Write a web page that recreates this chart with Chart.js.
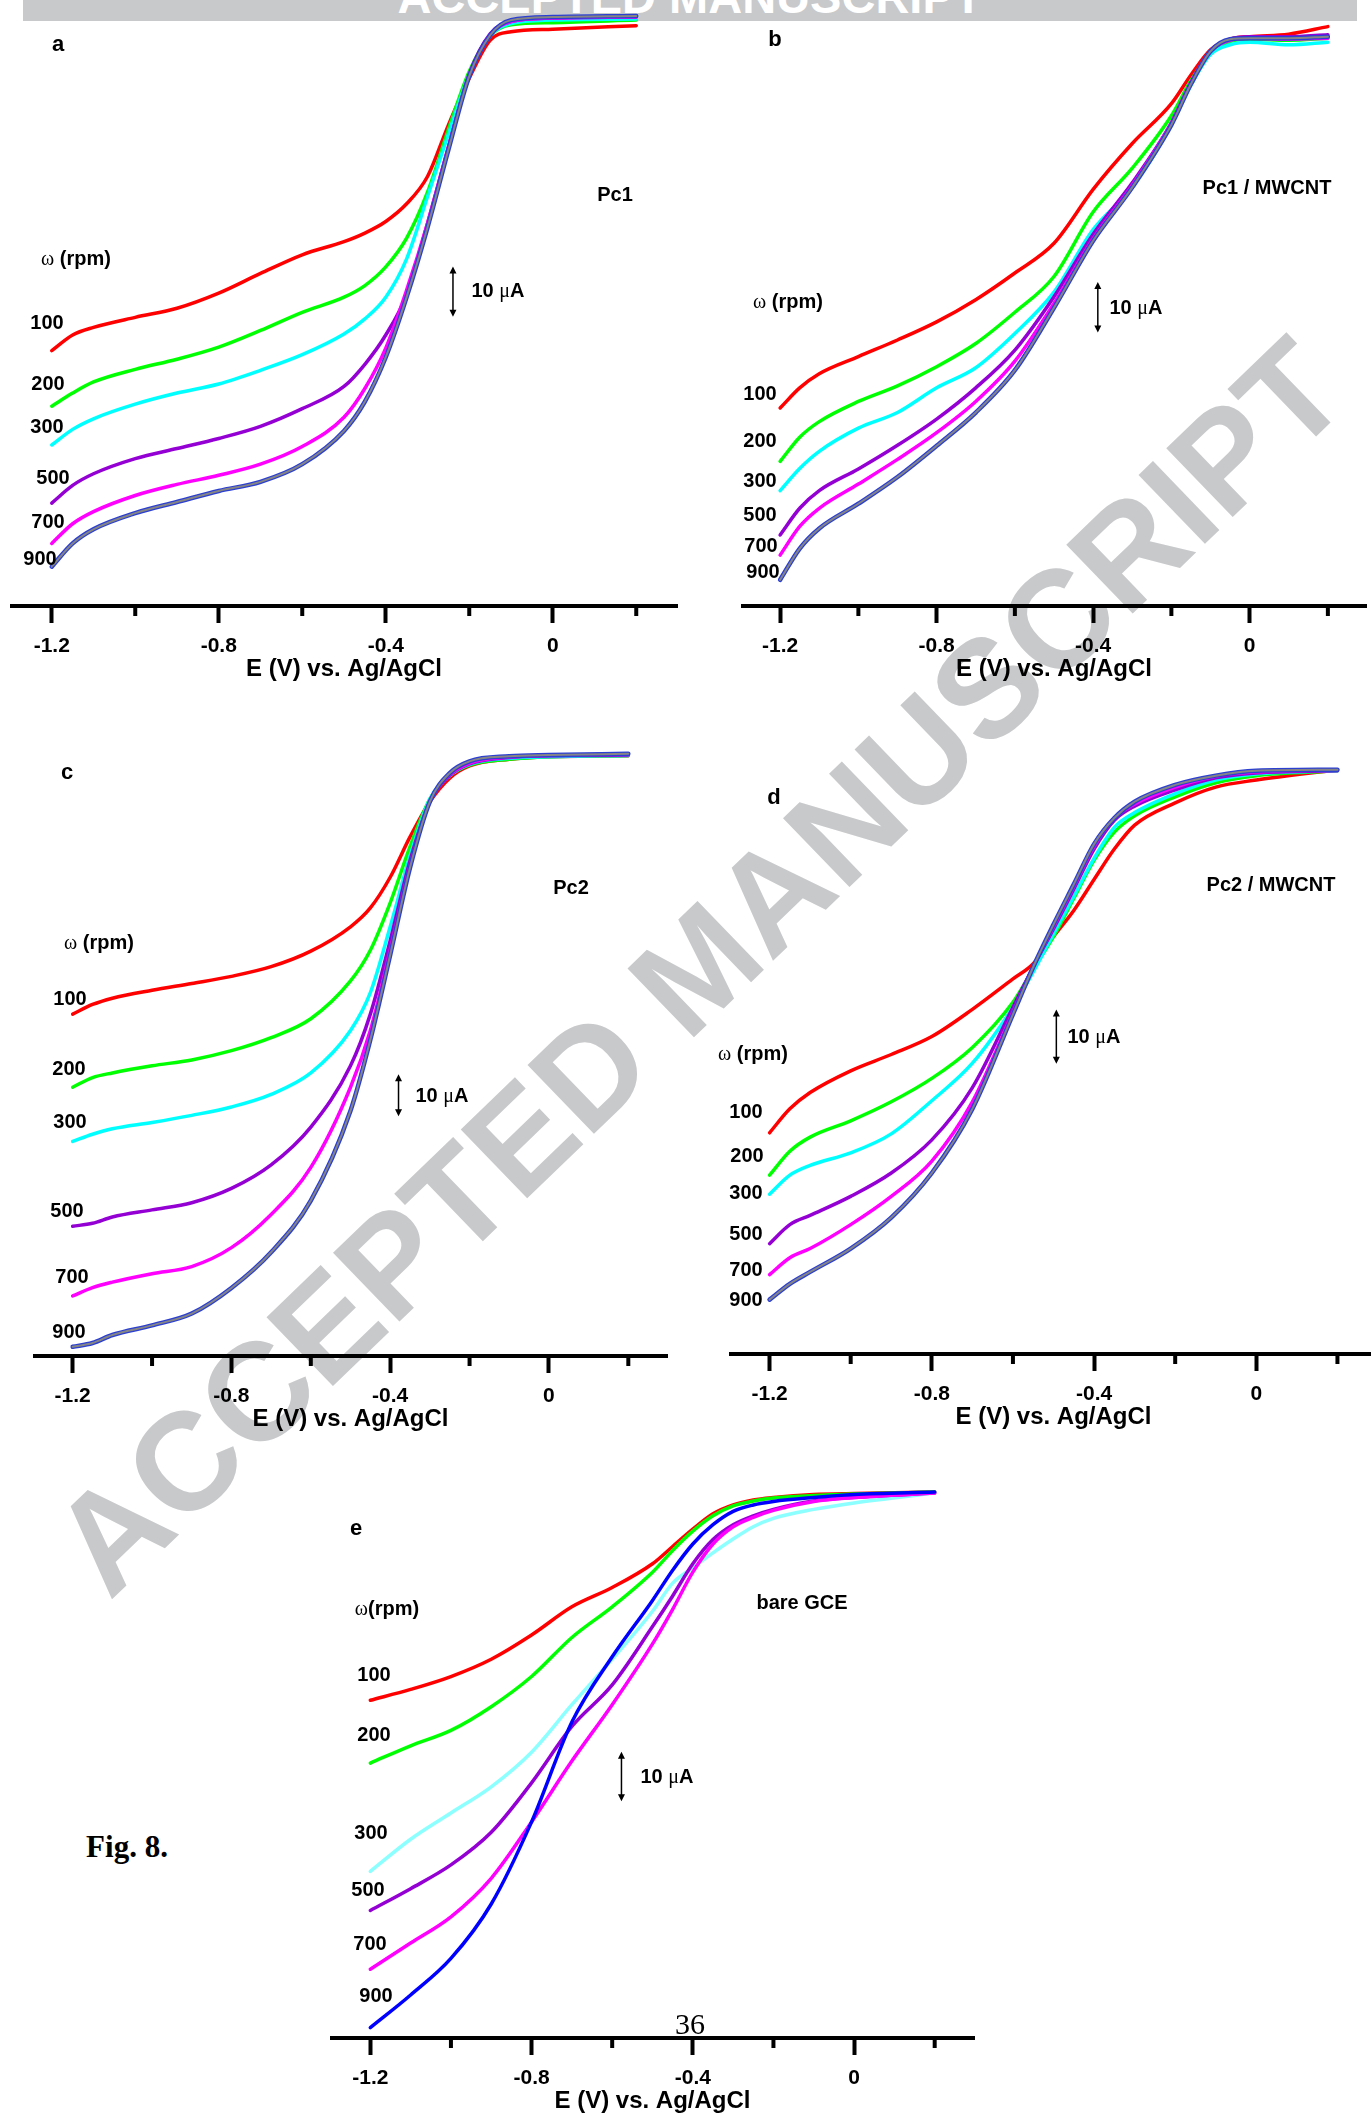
<!DOCTYPE html>
<html>
<head>
<meta charset="utf-8">
<script src="https://cdn.jsdelivr.net/npm/chart.js@4.4.0/dist/chart.umd.min.js"></script>
<style>
html, body { margin: 0; padding: 0; background: #fff; }
body { width: 1371px; height: 2121px; position: relative; overflow: hidden; font-family: "Liberation Sans", Arial, sans-serif; }
.hdr { position: absolute; left: 23px; top: 0; width: 1334px; height: 21px; background: #c8c9cb; overflow: hidden; z-index: 0; }
.hdr span { position: absolute; left: 0; width: 100%; top: -27px; text-align: center; color: #fff; font-weight: bold; font-size: 47px; line-height: 47px; }
.wm { position: absolute; left: 698px; top: 966px; transform: translate(-50%, -50%) rotate(-44deg); color: #c8c9cb; font-weight: bold; font-size: 139px; line-height: 1; white-space: nowrap; z-index: 0; }
canvas { position: absolute; z-index: 1; }
.lbl { position: absolute; transform: translate(-50%, -50%); font-weight: bold; white-space: nowrap; color: #000; line-height: 1; z-index: 3; }
.sym { font-family: "Liberation Serif", "Times New Roman", serif; font-weight: normal; }
.serif { font-family: "Liberation Serif", "Times New Roman", serif; }
.plain { font-weight: normal; }
</style>
</head>
<body>
<div class="hdr"><span>ACCEPTED MANUSCRIPT</span></div>
<div class="wm">ACCEPTED MANUSCRIPT</div>
<script>
// potential (V vs Ag/AgCl) and current (uA, relative to the plateau)
const rpmLabels = ['100', '200', '300', '500', '700', '900'];
const tickVals = [-1.2, -1.0, -0.8, -0.6, -0.4, -0.2, 0, 0.2];
const tickLabels = ['-1.2', '', '-0.8', '', '-0.4', '', '0', ''];

// a: Pc1
const potA = [-1.2, -1.15, -1.1, -1.0, -0.9, -0.8, -0.7, -0.6, -0.5, -0.45, -0.4, -0.35, -0.3, -0.25, -0.2, -0.15, -0.1, 0, 0.2];
const a100 = [-65.9, -62.8, -61.3, -59.3, -57.5, -54.5, -50.6, -46.9, -44.3, -42.6, -40.3, -36.8, -31.4, -21.2, -11.9, -4.4, -2.7, -2.2, -1.5];
const a200 = [-76.9, -74.3, -72.1, -69.6, -67.6, -65.2, -61.9, -58.3, -55.3, -53.0, -49.3, -43.6, -34.5, -22.1, -10.6, -3.5, -1.3, -0.9, -0.4];
const a300 = [-84.6, -81.5, -79.4, -76.5, -74.3, -72.5, -69.8, -66.7, -62.6, -59.6, -55.3, -47.7, -35.4, -23.0, -11.1, -3.5, -1.1, -0.4, -0.2];
const a500 = [-96.1, -92.6, -90.3, -87.3, -85.3, -83.3, -80.9, -77.4, -73.0, -68.6, -62.8, -54.8, -40.7, -25.6, -11.1, -3.1, -0.7, 0, 0.2];
const a700 = [-104.1, -100.2, -97.8, -94.6, -92.4, -90.6, -88.4, -84.9, -79.1, -73.4, -65.4, -53.9, -40.7, -25.6, -11.5, -3.4, -0.7, 0, 0.2];
const a900 = [-108.7, -104.1, -101.3, -98.1, -95.9, -93.7, -91.9, -88.4, -81.8, -76.0, -67.2, -55.3, -41.5, -26.1, -11.5, -3.4, -0.4, 0.2, 0.4];

// b: Pc1 / MWCNT
const potB = [-1.2, -1.15, -1.1, -1.0, -0.9, -0.8, -0.7, -0.6, -0.5, -0.4, -0.3, -0.2, -0.15, -0.1, -0.05, 0, 0.1, 0.2];
const b100 = [-73.0, -69.0, -66.2, -62.8, -59.5, -55.9, -51.5, -46.2, -40.3, -29.6, -20.5, -12.6, -6.9, -1.9, 0.2, 0.7, 1.2, 2.7];
const b200 = [-83.6, -78.8, -75.7, -71.7, -68.6, -64.8, -60.2, -54.0, -46.9, -34.1, -25.4, -15.0, -8.0, -2.7, -0.2, 0.2, 0, 0.4];
const b300 = [-89.4, -85.0, -81.6, -77.0, -73.9, -69.0, -65.0, -58.2, -50.0, -37.6, -29.2, -16.8, -8.9, -2.8, -0.9, -0.4, -0.9, -0.4];
const b500 = [-98.2, -92.9, -89.4, -85.1, -80.4, -75.2, -69.0, -61.5, -50.9, -38.5, -28.3, -16.4, -8.4, -2.2, 0.2, 0.7, 0.7, 1.1];
const b700 = [-102.2, -96.5, -92.9, -88.1, -83.2, -77.9, -71.7, -63.7, -52.2, -39.4, -28.8, -16.4, -8.4, -2.2, 0, 0.4, 0.2, 0.4];
const b900 = [-107.1, -100.9, -96.9, -92.0, -86.7, -80.5, -73.9, -65.5, -53.1, -39.8, -29.2, -16.8, -8.7, -2.2, 0.2, 0.4, 0.4, 0.7];

// c: Pc2
const potC = [-1.2, -1.15, -1.1, -1.0, -0.9, -0.8, -0.7, -0.6, -0.5, -0.45, -0.4, -0.35, -0.3, -0.25, -0.2, -0.1, 0, 0.2];
const c100 = [-61.3, -59.0, -57.5, -55.6, -54.0, -52.3, -50.0, -46.3, -40.5, -36.0, -28.7, -19.1, -10.7, -5.1, -2.2, -0.6, 0, 0.2];
const c200 = [-78.7, -76.4, -75.3, -73.6, -72.2, -70.0, -66.9, -62.4, -53.4, -46.1, -34.8, -21.4, -10.1, -4.5, -2.0, -0.6, 0, 0.3];
const c300 = [-91.6, -89.9, -88.6, -87.1, -85.4, -83.4, -80.4, -75.3, -65.2, -56.2, -40.5, -23.6, -10.1, -4.5, -1.8, -0.4, 0, 0.3];
const c500 = [-111.8, -111.1, -109.6, -107.9, -106.2, -102.8, -97.2, -88.2, -73.6, -61.3, -43.8, -24.7, -10.7, -4.5, -1.7, -0.2, 0.2, 0.4];
const c700 = [-128.4, -126.4, -125.1, -123.1, -121.4, -116.9, -109.0, -97.8, -78.7, -65.2, -46.1, -25.9, -10.7, -4.3, -1.5, -0.1, 0.3, 0.6];
const c900 = [-140.5, -139.6, -137.7, -135.4, -132.6, -126.5, -118.0, -105.7, -84.3, -67.4, -47.2, -26.4, -10.7, -3.9, -1.1, 0.1, 0.4, 0.7];

// d: Pc2 / MWCNT
const potD = [-1.2, -1.15, -1.1, -1.0, -0.9, -0.8, -0.7, -0.6, -0.55, -0.5, -0.45, -0.4, -0.35, -0.3, -0.2, -0.1, 0, 0.2];
const d100 = [-66.6, -62.2, -59.2, -55.2, -52.2, -48.9, -43.9, -38.3, -35.5, -30.5, -25.7, -20.0, -14.4, -10.0, -5.9, -3.0, -1.7, 0.2];
const d200 = [-74.4, -70.0, -67.4, -64.4, -60.9, -56.6, -50.9, -42.6, -36.5, -30.5, -23.5, -16.5, -11.3, -8.3, -4.8, -2.2, -0.9, 0];
const d300 = [-77.9, -74.4, -72.6, -70.3, -66.8, -60.7, -53.8, -43.5, -37.0, -30.0, -23.1, -16.1, -10.4, -7.7, -4.2, -1.7, -0.6, 0];
const d500 = [-87.0, -83.5, -81.8, -78.3, -74.0, -67.9, -58.3, -43.5, -36.1, -29.1, -21.8, -14.4, -9.1, -6.5, -3.5, -1.3, -0.4, 0];
const d700 = [-92.7, -89.6, -87.9, -83.5, -78.3, -71.8, -60.9, -44.4, -36.1, -28.7, -21.3, -13.9, -8.7, -6.1, -3.0, -1.0, -0.2, 0.2];
const d900 = [-97.3, -94.4, -92.2, -87.9, -82.2, -74.0, -62.2, -44.8, -36.1, -28.3, -20.9, -13.5, -8.7, -5.7, -2.6, -0.9, 0, 0.2];

// e: bare GCE
const potE = [-1.2, -1.1, -1.0, -0.9, -0.8, -0.7, -0.6, -0.5, -0.45, -0.4, -0.35, -0.3, -0.25, -0.2, -0.1, 0, 0.2];
const e100 = [-42.1, -39.9, -37.3, -33.8, -28.9, -23.2, -19.3, -14.5, -11.0, -7.5, -4.4, -2.6, -1.6, -1.1, -0.5, -0.3, 0];
const e200 = [-54.8, -51.3, -48.2, -43.4, -37.3, -29.4, -23.2, -16.2, -11.8, -7.9, -4.8, -2.8, -1.8, -1.2, -0.7, -0.4, 0];
const e300 = [-76.7, -70.2, -64.9, -59.6, -52.6, -43.0, -33.8, -24.1, -18.4, -15.3, -12.3, -9.5, -7.0, -5.3, -3.5, -2.2, -0.2];
const e500 = [-84.6, -80.2, -75.4, -68.8, -58.8, -47.4, -39.0, -27.2, -21.0, -14.5, -9.6, -6.6, -4.8, -3.5, -1.8, -1.1, -0.2];
const e700 = [-96.5, -91.2, -85.9, -78.1, -66.7, -54.4, -43.0, -30.7, -23.7, -16.2, -10.5, -7.0, -5.1, -3.7, -1.9, -1.1, -0.2];
const e900 = [-108.3, -101.7, -94.3, -83.3, -66.7, -46.5, -33.3, -21.9, -15.8, -10.5, -6.6, -3.9, -2.6, -1.9, -1.1, -0.5, 0];

const AXIS_H = 78;
const FONT = '"Liberation Sans", Arial, sans-serif';

const minorTicks = {
    id: 'minorTicks',
    afterDraw(chart) {
        const {ctx, chartArea, scales} = chart;
        ctx.save();
        ctx.strokeStyle = '#000';
        ctx.lineWidth = 4;
        tickVals.forEach((v, i) => {
            if (tickLabels[i]) return;
            const px = scales.x.getPixelForValue(v);
            ctx.beginPath();
            ctx.moveTo(px, chartArea.bottom);
            ctx.lineTo(px, chartArea.bottom + 10);
            ctx.stroke();
        });
        ctx.restore();
    }
};

// the "10 uA" double arrow
const scaleBar = {
    id: 'scaleBar',
    afterDatasetsDraw(chart, args, opts) {
        const {ctx, scales} = chart;
        const px = scales.x.getPixelForValue(opts.x);
        const y1 = scales.y.getPixelForValue(opts.from);
        const y2 = scales.y.getPixelForValue(opts.to);
        ctx.save();
        ctx.strokeStyle = '#000';
        ctx.fillStyle = '#000';
        ctx.lineWidth = 1.5;
        ctx.beginPath();
        ctx.moveTo(px, y1 + 4);
        ctx.lineTo(px, y2 - 4);
        ctx.stroke();
        ctx.beginPath();
        ctx.moveTo(px, y1); ctx.lineTo(px - 3.5, y1 + 7); ctx.lineTo(px + 3.5, y1 + 7); ctx.closePath();
        ctx.moveTo(px, y2); ctx.lineTo(px - 3.5, y2 - 7); ctx.lineTo(px + 3.5, y2 - 7); ctx.closePath();
        ctx.fill();
        ctx.restore();
    }
};

function drawPanel(p) {
    const canvas = document.createElement('canvas');
    canvas.width = p.right - p.left;
    canvas.height = p.bottom - p.top + AXIS_H;
    canvas.style.left = p.left + 'px';
    canvas.style.top = p.top + 'px';
    canvas.style.width = canvas.width + 'px';
    canvas.style.height = canvas.height + 'px';
    document.body.appendChild(canvas);

    const datasets = [];
    p.series.forEach((ys, i) => {
        const data = p.pot.map((x, j) => ({x: x, y: ys[j]}));
        const base = {label: rpmLabels[i] + ' rpm', data: data, pointRadius: 0, fill: false,
            cubicInterpolationMode: 'monotone', borderJoinStyle: 'round', borderCapStyle: 'round'};
        if (i < 5) {
            datasets.push(Object.assign({}, base, {borderColor: p.colors[i], borderWidth: 3.5, order: 10 - i}));
        } else if (p.plainBlue) {
            datasets.push(Object.assign({}, base, {borderColor: '#0000ff', borderWidth: 3.5, order: 1}));
        } else {
            datasets.push(Object.assign({}, base, {borderColor: '#2b3fd1', borderWidth: 4.5, order: 1}));
            datasets.push(Object.assign({}, base, {borderColor: '#858585', borderWidth: 2, order: 0}));
        }
    });

    new Chart(canvas.getContext('2d'), {
        type: 'line',
        data: {datasets: datasets},
        options: {
            responsive: false,
            animation: false,
            devicePixelRatio: 1,
            layout: {padding: 0},
            plugins: {
                legend: {display: false},
                tooltip: {enabled: false},
                scaleBar: p.bar
            },
            scales: {
                x: {
                    type: 'linear',
                    min: -1.3,
                    max: 0.3,
                    afterBuildTicks: scale => { scale.ticks = tickVals.map(v => ({value: v})); },
                    afterFit: scale => { scale.height = AXIS_H; },
                    border: {display: true, color: '#000', width: 4},
                    grid: {
                        display: true,
                        drawOnChartArea: false,
                        drawTicks: true,
                        tickLength: 17,
                        tickWidth: 4,
                        tickColor: ctx => tickLabels[ctx.index] ? '#000' : 'rgba(0,0,0,0)'
                    },
                    ticks: {
                        autoSkip: false,
                        maxRotation: 0,
                        padding: 11,
                        color: '#000',
                        font: {family: FONT, weight: 'bold', size: 21},
                        callback: (v, i) => tickLabels[i]
                    },
                    title: {
                        display: true,
                        text: 'E (V) vs. Ag/AgCl',
                        color: '#000',
                        padding: 0,
                        font: {family: FONT, weight: 'bold', size: 24}
                    }
                },
                y: {display: false, min: p.yMin, max: p.yMax}
            }
        },
        plugins: [minorTicks, scaleBar]
    });
}

function addNote(html, x, y, size, cls) {
    const d = document.createElement('div');
    d.className = 'lbl' + (cls ? ' ' + cls : '');
    d.innerHTML = html;
    d.style.left = x + 'px';
    d.style.top = y + 'px';
    d.style.fontSize = size + 'px';
    document.body.appendChild(d);
}

const mainColors = ['#ff0000', '#00ff00', '#00ffff', '#9400d3', '#ff00ff'];
const bareColors = ['#ff0000', '#00ff00', '#8cffff', '#9400d3', '#ff00ff'];

const panels = [
    {left: 10, right: 678, top: 8, bottom: 606, yMin: -116.5, yMax: 2.0, pot: potA,
     series: [a100, a200, a300, a500, a700, a900], colors: mainColors, bar: {x: -0.239, from: -49.2, to: -59.2},
     letter: ['a', 58, 44], name: ['Pc1', 615, 194], omega: [76, 258], rpmX: [47, 48, 47, 53, 48, 40],
     rpmY: [322, 383, 426, 477, 521, 558], uA: [498, 290]},
    {left: 741, right: 1367, top: 10, bottom: 606, yMin: -112.3, yMax: 6.0, pot: potB,
     series: [b100, b200, b300, b500, b700, b900], colors: mainColors, bar: {x: -0.388, from: -48.0, to: -58.0},
     letter: ['b', 775, 39], name: ['Pc1 / MWCNT', 1267, 187], omega: [788, 301], rpmX: [760, 760, 760, 760, 761, 763],
     rpmY: [393, 440, 480, 514, 545, 571], uA: [1136, 307]},
    {left: 33, right: 668, top: 742, bottom: 1356, yMin: -142.7, yMax: 3.5, pot: potC,
     series: [c100, c200, c300, c500, c700, c900], colors: mainColors, bar: {x: -0.379, from: -75.6, to: -85.6},
     letter: ['c', 67, 772], name: ['Pc2', 571, 887], omega: [99, 942], rpmX: [70, 69, 70, 67, 72, 69],
     rpmY: [998, 1068, 1121, 1210, 1276, 1331], uA: [442, 1095]},
    {left: 729, right: 1378, top: 755, bottom: 1354, yMin: -107.3, yMax: 2.9, pot: potD,
     series: [d100, d200, d300, d500, d700, d900], colors: mainColors, bar: {x: -0.493, from: -43.9, to: -53.9},
     letter: ['d', 774, 797], name: ['Pc2 / MWCNT', 1271, 884], omega: [753, 1053], rpmX: [746, 747, 746, 746, 746, 746],
     rpmY: [1111, 1155, 1192, 1233, 1269, 1299], uA: [1094, 1036]},
    {left: 330, right: 975, top: 1478, bottom: 2038, yMin: -110.4, yMax: 2.85, pot: potE, plainBlue: true,
     series: [e100, e200, e300, e500, e700, e900], colors: bareColors, bar: {x: -0.577, from: -52.5, to: -62.5},
     letter: ['e', 356, 1528], name: ['bare GCE', 802, 1602], omega: [387, 1608], omegaTight: true,
     rpmX: [374, 374, 371, 368, 370, 376], rpmY: [1674, 1734, 1832, 1889, 1943, 1995], uA: [667, 1776]}
];

panels.forEach(p => {
    drawPanel(p);
    addNote(p.letter[0], p.letter[1], p.letter[2], 22);
    addNote(p.name[0], p.name[1], p.name[2], 20);
    addNote('<span class="sym">ω</span>' + (p.omegaTight ? '' : ' ') + '(rpm)', p.omega[0], p.omega[1], 20);
    rpmLabels.forEach((t, i) => addNote(t, p.rpmX[i], p.rpmY[i], 20));
    addNote('10 <span class="sym">μ</span>A', p.uA[0], p.uA[1], 20);
});

addNote('Fig. 8.', 127, 1846, 31, 'serif');
addNote('36', 690, 2024, 30, 'serif plain');
</script>
</body>
</html>
